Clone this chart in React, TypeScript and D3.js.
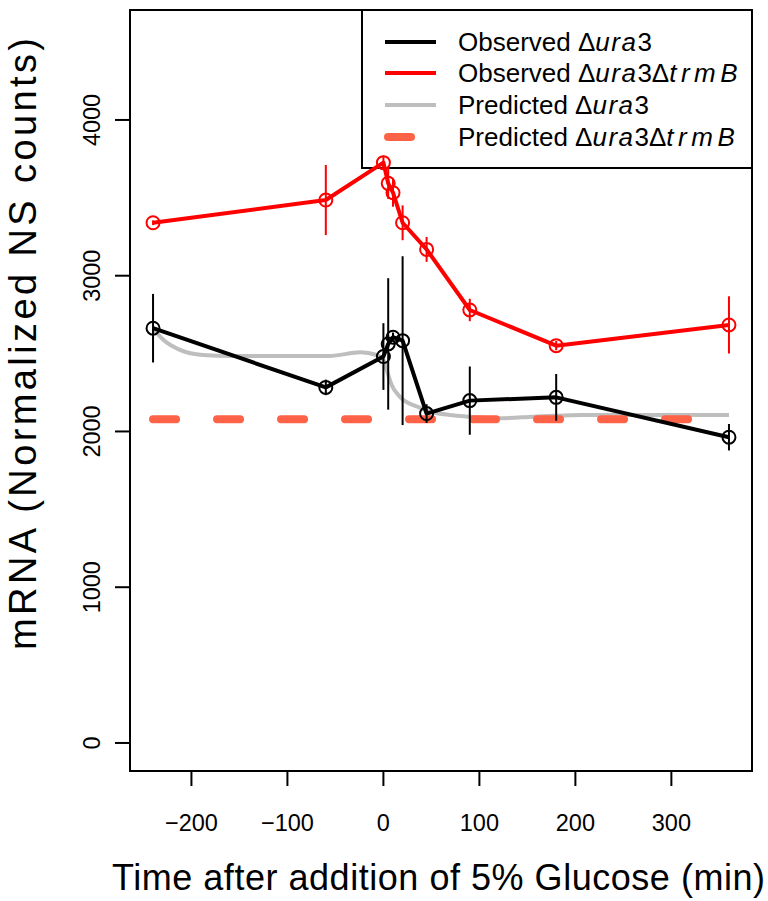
import React from "react";
import * as d3 from "d3";

const times = [-240, -60, 0, 5, 10, 20, 45, 90, 180, 360];
const obsUra3 = [2663, 2283, 2481, 2562, 2605, 2583, 2115, 2198, 2219, 1963];
const obsUra3Err = [220, 50, 214, 422, 30, 542, 60, 219, 150, 85];
const obsTrmB = [3340, 3486, 3726, 3593, 3533, 3340, 3169, 2780, 2551, 2684];
const obsTrmBErr = [15, 225, 45, 100, 90, 112, 80, 72, 30, 184];
const predUra3Times = [-240, -229, -212, -188, -160, -100, -56, -24, -7, 0, 3.4, 8.6, 17, 35, 48.5, 69, 90, 121, 156, 177, 208, 360];
const predUra3 = [2663, 2587, 2524, 2491, 2485, 2485, 2485, 2508, 2491, 2459, 2395, 2299, 2224, 2160, 2128, 2106, 2095, 2085, 2095, 2101, 2106, 2106];
const predTrmBTimes = [-240, 360];
const predTrmB = [2078, 2078];
const xTicks = [-200, -100, 0, 100, 200, 300];
const yTicks = [0, 1000, 2000, 3000, 4000];
const legendLabels = ["Observed", "Observed", "Predicted", "Predicted"];

const FONT = "'Liberation Sans', Arial, Helvetica, sans-serif";
const L = 130, R = 752, T = 10, B = 771;

export default function App() {
  const x = d3.scaleLinear().domain([-264, 384]).range([L, R]);
  const y = d3.scaleLinear().domain([-180, 4706]).range([B, T]);
  const line = d3.line<[number, number]>().x(d => x(d[0])).y(d => y(d[1]));
  const smooth = d3.line<[number, number]>().x(d => x(d[0])).y(d => y(d[1])).curve(d3.curveMonotoneX);
  const zip = (a: number[], b: number[]) => a.map((v, i) => [v, b[i]] as [number, number]);

  const series = [
    { vals: obsUra3, err: obsUra3Err, color: "#000000" },
    { vals: obsTrmB, err: obsTrmBErr, color: "#FF0000" },
  ];
  const legend = [
    { color: "#000000", dashed: false, double: false },
    { color: "#FF0000", dashed: false, double: true },
    { color: "#BEBEBE", dashed: false, double: false },
    { color: "#FF6347", dashed: true, double: true },
  ];
  const rowY = [42, 73, 105, 137];

  return (
    <svg width={768} height={901} style={{ position: "absolute", left: 0, top: 0, background: "#fff" }} fontFamily={FONT}>
      <rect x={0} y={0} width={768} height={901} fill="#fff" />
      {/* legend */}
      <rect x={362} y={T} width={R - 362} height={158} fill="#fff" stroke="#000" strokeWidth={2} />
      {legend.map((lg, i) => (
        <g key={i}>
          {lg.dashed ? (
            <line x1={388} x2={436} y1={rowY[i]} y2={rowY[i]} stroke={lg.color} strokeWidth={8}
              strokeDasharray="23 41" strokeLinecap="round" />
          ) : (
            <line x1={385} x2={436} y1={rowY[i]} y2={rowY[i]} stroke={lg.color} strokeWidth={4} />
          )}
          <text x={458} y={rowY[i] + 9} fontSize={26}>
            {legendLabels[i] + " \u0394"}
            <tspan fontStyle="italic" letterSpacing={1.5}>ura</tspan>
            {"3"}
            {lg.double ? "\u0394" : null}
            {lg.double ? <tspan fontStyle="italic" letterSpacing={4.5}>trmB</tspan> : null}
          </text>
        </g>
      ))}
      {/* predicted */}
      <path d={smooth(zip(predUra3Times, predUra3)) || ""} fill="none" stroke="#BEBEBE" strokeWidth={4} />
      <path d={line(zip(predTrmBTimes, predTrmB)) || ""} fill="none" stroke="#FF6347" strokeWidth={8}
        strokeDasharray="23 41" strokeLinecap="round" />
      {/* observed */}
      {series.map((s, si) => (
        <g key={si}>
          {times.map((t, i) => (
            <line key={"e" + i} x1={x(t)} x2={x(t)} y1={y(s.vals[i] - s.err[i])} y2={y(s.vals[i] + s.err[i])}
              stroke={s.color} strokeWidth={2} />
          ))}
          <path d={line(zip(times, s.vals)) || ""} fill="none" stroke={s.color} strokeWidth={4} strokeLinejoin="round" />
          {times.map((t, i) => (
            <circle key={"c" + i} cx={x(t)} cy={y(s.vals[i])} r={6.5} fill="none" stroke={s.color} strokeWidth={2} />
          ))}
        </g>
      ))}
      {/* box */}
      <rect x={L} y={T} width={R - L} height={B - T} fill="none" stroke="#000" strokeWidth={2} />
      {/* x axis */}
      {xTicks.map(t => (
        <g key={t}>
          <line x1={x(t)} x2={x(t)} y1={B} y2={B + 15} stroke="#000" strokeWidth={2} />
          <text x={x(t)} y={831} fontSize={23.5} textAnchor="middle">{t < 0 ? "\u2212" + Math.abs(t) : String(t)}</text>
        </g>
      ))}
      {/* y axis */}
      {yTicks.map(v => (
        <g key={v}>
          <line x1={L - 15} x2={L} y1={y(v)} y2={y(v)} stroke="#000" strokeWidth={2} />
          <text transform={`translate(100,${y(v)}) rotate(-90)`} fontSize={23.5} textAnchor="middle">{String(v)}</text>
        </g>
      ))}
      <text x={438.5} y={890} fontSize={36} textAnchor="middle" textLength={653} lengthAdjust="spacing">
        Time after addition of 5% Glucose (min)
      </text>
      <text transform="translate(36,344) rotate(-90)" fontSize={38} textAnchor="middle" textLength={612} lengthAdjust="spacing">
        mRNA (Normalized NS counts)
      </text>
    </svg>
  );
}
